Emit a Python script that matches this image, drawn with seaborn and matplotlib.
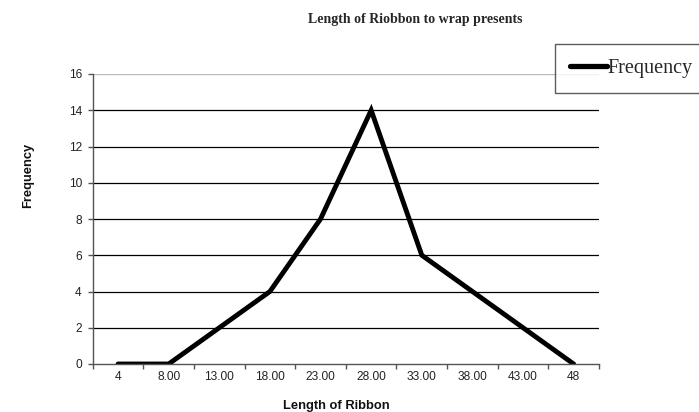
import matplotlib
matplotlib.use("Agg")
import matplotlib.pyplot as plt
import seaborn as sns
import numpy as np
from matplotlib.ticker import MultipleLocator, FixedLocator

# Ribbon length bins and how many presents fall in each
lengths = ["4", "8.00", "13.00", "18.00", "23.00", "28.00", "33.00", "38.00", "43.00", "48"]
frequency = [0, 0, 2, 4, 8, 14, 6, 4, 2, 0]

title = "Length of Riobbon to wrap presents"
x_title = "Length of Ribbon"
y_title = "Frequency"
series_name = "Frequency"

sns.set_style("white")
plt.rcParams["font.family"] = ["Liberation Sans", "DejaVu Sans"]

W, H = 699, 412
fig = plt.figure(figsize=(W / 100, H / 100), dpi=100)
ax = fig.add_axes([92.7 / W, 1 - 364 / H, (599 - 92.7) / W, (364 - 74) / H])

sns.lineplot(x=lengths, y=frequency, sort=False, color="black", linewidth=3.5,
             ax=ax, label=series_name, solid_capstyle="round", solid_joinstyle="miter")
ax.get_legend().remove()

ax.set_xlim(-0.5, len(lengths) - 0.5)
ax.set_ylim(0, 16)
ax.yaxis.set_major_locator(MultipleLocator(2))

# horizontal gridlines
for y in range(2, 16, 2):
    ax.axhline(y, color="black", linewidth=0.9, zorder=0)
ax.axhline(16, color="#bbbbbb", linewidth=1.0, zorder=0)

for side in ["top", "right"]:
    ax.spines[side].set_visible(False)
for side in ["left", "bottom"]:
    ax.spines[side].set_color("#555555")
    ax.spines[side].set_linewidth(1.0)

# category tick marks sit on the bin boundaries
ax.xaxis.set_minor_locator(FixedLocator(np.arange(-0.5, len(lengths), 1.0)))
ax.tick_params(axis="x", which="major", length=0, labelsize=8.6, pad=5, labelcolor="#222222")
ax.tick_params(axis="x", which="minor", length=3.5, width=1, color="#555555", direction="out", bottom=True)
ax.tick_params(axis="y", which="major", length=3.8, width=1, color="#555555", direction="out",
               labelsize=8.6, left=True, pad=4, labelcolor="#222222")

ax.set_xlabel("")
ax.set_ylabel("")

fig.text(415 / W, 1 - 23.3 / H, title, ha="center", va="baseline",
         fontsize=10, fontweight="bold", family=["Liberation Serif", "DejaVu Serif"])
fig.text(336.5 / W, 1 - 409 / H, x_title, ha="center", va="baseline",
         fontsize=9.3, fontweight="bold", color="#111111")
fig.text(28 / W, 1 - 175 / H, y_title, ha="center", va="center", rotation=90,
         fontsize=9.3, fontweight="bold", color="#111111")

handles = ax.get_lines()[:1]
leg = fig.legend(handles, [series_name], loc="upper left", bbox_to_anchor=(555 / W, 1 - 44 / H),
                 frameon=True, fancybox=False, edgecolor="#333333", borderpad=0.75,
                 handlelength=1.85, handletextpad=0.0, borderaxespad=0,
                 prop={"family": "Liberation Serif", "size": 14.5})
leg.get_frame().set_linewidth(1.0)
leg.get_lines()[0].set_linewidth(3.8)

fig.savefig("out.png", dpi=100)
